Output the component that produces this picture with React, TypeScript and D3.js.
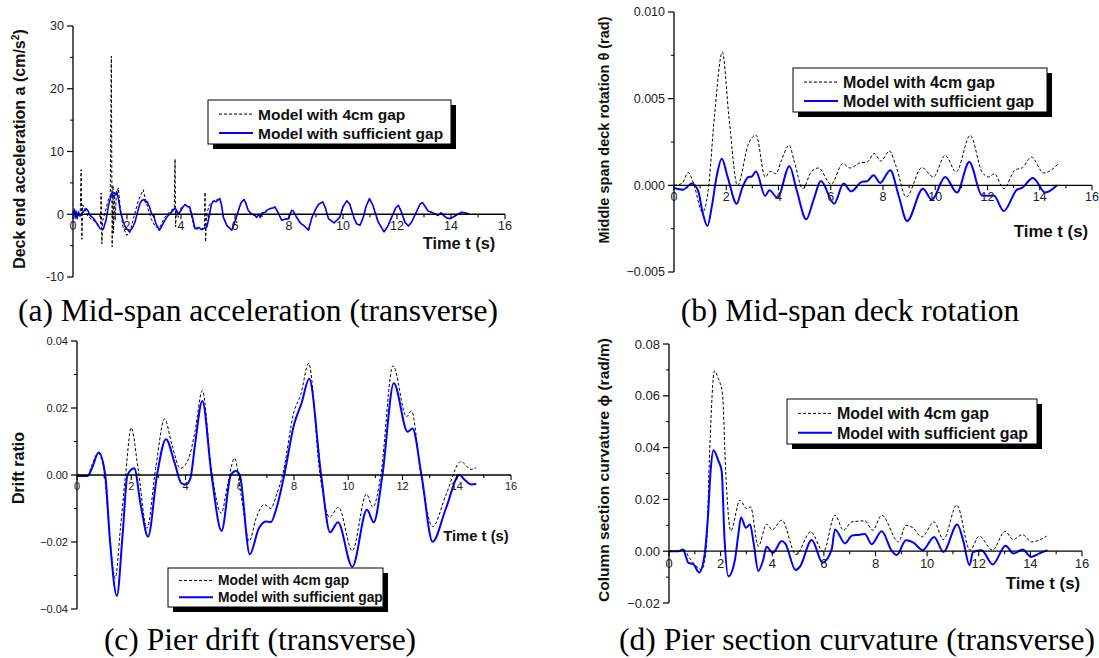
import { useEffect, useRef } from 'react';
import * as d3 from 'd3';

const WIDTH = 1099;
const HEIGHT = 658;

const LEGEND_GAP = 'Model with 4cm gap';
const LEGEND_SUFF = 'Model with sufficient gap';
const X_TICKS = [0, 2, 4, 6, 8, 10, 12, 14, 16];

// (a) deck end acceleration (cm/s2)
const accelSuff: [number, number][] = [
  [0, 0.2], [0.05, 0.8], [0.08, -0.6], [0.11, 0.5], [0.15, -0.7], [0.2, 0.4], [0.26, -0.3], [0.32, 0.1],
  [0.4, 0.5], [0.48, 0.9], [0.55, 0.6], [0.63, -0.2], [0.72, -0.5], [0.82, -1.0], [0.9, -1.6], [1.0, -2.3],
  [1.12, -2.4], [1.22, -1.0], [1.32, 1.5], [1.43, 3.3], [1.52, 2.8], [1.62, 3.6], [1.68, 2.5], [1.75, 0.6],
  [1.85, -1.0], [1.93, -2.0], [2.09, -2.8], [2.2, -2.2], [2.3, -1.2], [2.4, 0.5], [2.48, 1.7], [2.55, 2.2],
  [2.63, 2.35], [2.7, 1.9], [2.75, 2.0], [2.83, 1.2], [2.91, 0.1], [3.0, -0.4], [3.07, -1.5], [3.2, -2.55],
  [3.3, -1.8], [3.41, -0.95], [3.5, -0.3], [3.6, 0.1], [3.7, 0.6], [3.78, 1.0], [3.85, 0.5], [3.9, 0.1],
  [4.0, 0.6], [4.08, 1.2], [4.15, 1.54], [4.25, 1.2], [4.32, 1.17], [4.4, 0], [4.52, -2.3], [4.65, -2.1],
  [4.77, -2.45], [4.96, -2.0], [5.06, 0], [5.12, 1.5], [5.2, 2.1], [5.3, 2.0], [5.44, 2.5], [5.5, 1.5],
  [5.57, -0.5], [5.7, -1.8], [5.8, -2.2], [5.88, -2.55], [5.95, -1.8], [6.05, -0.5], [6.12, 0.5], [6.22, 1.8],
  [6.33, 2.35], [6.4, 1.8], [6.49, 0.6], [6.6, 0.1], [6.74, -0.2], [6.8, -0.5], [6.88, 0], [6.93, -0.5],
  [7.0, 0.2], [7.11, 0.3], [7.2, 0.7], [7.3, 0.9], [7.4, 1.0], [7.48, 1.17], [7.6, 0.2], [7.73, -0.96],
  [7.85, -0.8], [7.98, -0.7], [8.1, 0.64], [8.16, 0.5], [8.3, -0.6], [8.42, -1.4], [8.55, -1.8], [8.72, -2.55],
  [8.85, -0.5], [9.01, 1.0], [9.1, 1.6], [9.25, 1.97], [9.35, 1.0], [9.46, -0.7], [9.67, -1.38], [9.88, -0.5],
  [10.0, 1.2], [10.14, 2.13], [10.25, 1.6], [10.4, -0.5], [10.5, -1.5], [10.63, -1.75], [10.75, -0.5], [10.85, 1.2],
  [10.98, 2.5], [11.1, 1.5], [11.3, -1.2], [11.52, -2.8], [11.65, -2.0], [11.8, -0.5], [11.95, 1.0], [12.05, 1.44],
  [12.15, 0.5], [12.3, -1.3], [12.42, -1.86], [12.55, -1.2], [12.7, 0.2], [12.85, 1.6], [12.94, 1.86], [13.05, 1.2],
  [13.15, 0.5], [13.28, 0.3], [13.4, 0.1], [13.52, -0.2], [13.63, 0.22], [13.75, -0.3], [13.85, -0.6], [13.96, -0.7],
  [14.1, -0.4], [14.25, 0.0], [14.4, 0.32], [14.55, 0.2], [14.68, 0.0],
];
const accelGapEarly: [number, number][] = [
  [0, 0], [0.1, 0.5], [0.2, -0.3], [0.27, 0.5], [0.3, 7.1], [0.33, -4.0], [0.36, 1.5], [0.45, 0.8],
  [0.55, -0.3], [0.7, -0.9], [0.85, -1.2], [0.95, -1.8], [1.02, -1.5], [1.04, 3.4], [1.07, -4.7], [1.1, -1.0],
  [1.2, 0.5], [1.32, 2.5], [1.38, 3.0], [1.42, 25.2], [1.45, -5.2], [1.48, 4.6], [1.5, -3], [1.53, 3.5],
  [1.56, -1], [1.6, 3.0], [1.68, 4.2], [1.75, 1], [1.85, -2.0], [1.99, -3.35], [2.1, -3.0], [2.25, -0.5],
  [2.42, 2.2], [2.6, 3.9], [2.68, 2.5], [2.8, 0.5], [2.9, -0.8], [3.05, -2.0], [3.2, -2.2], [3.4, -0.5],
  [3.6, 0.5], [3.75, 1.0], [3.78, 8.8], [3.8, -2.0], [3.83, 0.8], [3.9, -0.5], [4.0, 1.0], [4.15, 1.5],
  [4.3, 1.2], [4.5, -2.3], [4.75, -2.4], [4.87, -2.0], [4.89, 3.5], [4.91, -4.4], [4.95, 0], [5.05, 1.5],
  [5.2, 2.1],
];
// after ~5.3 s the 4cm-gap trace lies under the sufficient-gap trace
const accelGap: [number, number][] = [...accelGapEarly, ...accelSuff.filter((d) => d[0] > 5.3)];

// (b) middle span deck rotation (rad)
const rotGap: [number, number][] = [
  [0, 0], [0.3, 0.0001], [0.55, 0.00073], [0.75, 0.0001], [1.09, -0.00154], [1.3, -0.0004], [1.55, 0.004],
  [1.85, 0.00769], [2.1, 0.004], [2.43, 0], [2.85, 0.0024], [3.14, 0.0029], [3.49, 0.00048], [3.68, 0.0008],
  [3.9, 0.00067], [4.1, 0.0014], [4.41, 0.00231], [4.6, 0.0014], [4.93, -0.00019], [5.25, 0.00077], [5.53, 0.001],
  [6.01, 0.00006], [6.46, 0.00125], [6.74, 0.001], [7.13, 0.0013], [7.39, 0.00134], [7.66, 0.00183], [7.92, 0.0014],
  [8.25, 0.00198], [8.5, 0.0011], [8.89, -0.00067], [9.49, 0.00102], [9.93, 0.00048], [10.38, 0.00173],
  [10.8, 0.00077], [11.34, 0.00288], [11.79, 0.00077], [12.05, 0.00048], [12.26, 0.00067], [12.62, -0.00019],
  [13.06, 0.0009], [13.32, 0.001], [13.68, 0.00163], [14.15, 0.00071], [14.35, 0.0008], [14.69, 0.00121],
];
const rotSuff: [number, number][] = [
  [0, -0.00015], [0.36, -0.00025], [0.5, -0.0001], [0.68, 0.0001], [0.92, -0.0003], [1.1, -0.0016],
  [1.28, -0.00235], [1.45, -0.0012], [1.63, 0.0005], [1.83, 0.00154], [2.05, 0.0005], [2.4, -0.00106],
  [2.6, -0.0002], [2.85, 0.00048], [2.97, 0.0005], [3.14, 0.0008], [3.49, -0.00061], [3.65, -0.00029],
  [3.96, -0.00071], [4.42, 0.0011], [4.7, -0.0003], [5.06, -0.00196], [5.35, -0.0008], [5.62, 0.00025],
  [6.13, -0.00106], [6.49, 0.0001], [6.78, -0.00035], [7.19, 0.0002], [7.38, 0.00023], [7.64, 0.00058],
  [7.89, 0.00014], [8.28, 0.00087], [8.6, -0.0006], [8.92, -0.00206], [9.53, -0.00019], [9.87, -0.00083],
  [10.38, 0.00048], [10.83, -0.00042], [11.3, 0.00135], [11.79, -0.00058], [12.05, -0.0006], [12.24, -0.00058],
  [12.62, -0.00148], [13.13, -0.00025], [13.32, -0.00015], [13.74, 0.00042], [14.21, -0.00042], [14.66, 0],
];

// (c) pier drift ratio
const driftGap: [number, number][] = [
  [0, 0], [0.4, 0], [0.55, 0.003], [0.78, 0.0065], [1.0, 0.001], [1.2, -0.018], [1.41, -0.0308], [1.6, -0.016],
  [1.79, 0], [2.0, 0.0141], [2.25, 0.002], [2.58, -0.0159], [2.9, 0.002], [3.23, 0.0167], [3.5, 0.009],
  [3.81, 0.002], [4.12, 0.005], [4.35, 0.013], [4.62, 0.0252], [4.95, 0.002], [5.32, -0.0114], [5.55, -0.003],
  [5.81, 0.005], [6.05, -0.006], [6.35, -0.0197], [6.6, -0.013], [6.9, -0.0088], [7.15, -0.01], [7.35, -0.006],
  [7.58, 0], [8.0, 0.0189], [8.25, 0.024], [8.54, 0.0333], [8.96, 0], [9.31, -0.0126], [9.64, -0.0096],
  [10.15, -0.0226], [10.67, -0.0057], [10.91, -0.0096], [11.2, 0], [11.65, 0.0326], [12.15, 0.0174],
  [12.33, 0.0191], [12.68, 0], [13.11, -0.0154], [13.6, -0.006], [14.15, 0.004], [14.53, 0.0017], [14.72, 0.0022],
];
const driftSuff: [number, number][] = [
  [0, -0.0003], [0.4, -0.0003], [0.55, 0.002], [0.8, 0.0067], [1.04, 0], [1.22, -0.02], [1.47, -0.0361],
  [1.68, -0.018], [1.86, 0], [2.11, 0.002], [2.35, -0.009], [2.62, -0.0184], [2.95, 0], [3.28, 0.0107],
  [3.6, 0.0036], [3.85, -0.0025], [4.02, -0.0028], [4.18, -0.001], [4.35, 0.009], [4.62, 0.0221], [4.96, 0],
  [5.33, -0.0167], [5.67, 0], [5.85, 0.0012], [6.0, 0], [6.37, -0.0237], [6.7, -0.016], [6.96, -0.0139],
  [7.15, -0.014], [7.35, -0.01], [7.64, 0], [8.0, 0.015], [8.28, 0.0215], [8.56, 0.0287], [9.0, 0],
  [9.33, -0.0171], [9.62, -0.0141], [10.15, -0.0274], [10.69, -0.0104], [10.94, -0.0141], [11.26, 0],
  [11.68, 0.0274], [12.19, 0.0129], [12.37, 0.0139], [12.7, 0], [13.11, -0.0199], [13.6, -0.01],
  [14.1, 0], [14.3, -0.0015], [14.53, -0.0028], [14.72, -0.0027],
];

// (d) column section curvature (rad/m)
const curvGap: [number, number][] = [
  [0, 0], [0.36, 0], [0.55, 0.0007], [0.82, -0.003], [1.27, -0.0071], [1.45, 0.002], [1.58, 0.04], [1.76, 0.0696],
  [1.91, 0.0667], [2.07, 0.0609], [2.2, 0.03], [2.39, 0.0079], [2.75, 0.0197], [3.0, 0.0165], [3.16, 0.0171],
  [3.46, 0.0019], [3.78, 0.0104], [4.0, 0.0083], [4.37, 0.012], [4.92, -0.0013], [5.49, 0.0075], [5.98, -0.0002],
  [6.43, 0.0139], [6.76, 0.0081], [7.08, 0.0113], [7.59, 0.0117], [7.89, 0.0081], [8.24, 0.0139], [8.89, 0.0036],
  [9.18, 0.01], [9.45, 0.009], [9.79, 0.0055], [10.27, 0.0113], [10.63, 0.0045], [11.15, 0.0178], [11.66, 0.0004],
  [12.02, 0.0058], [12.53, 0.0004], [13.02, 0.0077], [13.33, 0.0045], [13.69, 0.0064], [14.05, 0.0036],
  [14.63, 0.0058],
];
const curvSuff: [number, number][] = [
  [0, 0], [0.36, 0], [0.55, 0.0007], [0.65, -0.002], [0.75, -0.0045], [0.94, -0.005], [1.17, -0.0082],
  [1.39, -0.0006], [1.5, 0.012], [1.62, 0.032], [1.72, 0.039], [1.91, 0.035], [2.04, 0.031], [2.15, 0.005],
  [2.3, -0.0097], [2.56, -0.003], [2.68, 0.006], [2.79, 0.013], [2.98, 0.0091], [3.14, 0.0103], [3.28, 0.003],
  [3.46, -0.0076], [3.65, -0.0033], [3.78, 0.0017], [4.02, -0.0006], [4.37, 0.0039], [4.5, 0.003],
  [4.91, -0.0073], [5.07, -0.006], [5.53, 0.0043], [5.95, -0.0044], [6.3, 0.0006], [6.43, 0.0084], [6.82, 0.003],
  [7.08, 0.006], [7.34, 0.0063], [7.59, 0.0066], [7.85, 0.0027], [8.24, 0.0077], [8.63, 0.0001], [8.82, -0.0015],
  [9.18, 0.0042], [9.47, 0.0033], [9.83, 0.0004], [10.27, 0.0055], [10.63, -0.0003], [11.17, 0.0103],
  [11.4, 0.004], [11.64, -0.0054], [11.78, -0.0003], [12.11, 0.0004], [12.54, -0.0051], [13.04, 0.0021],
  [13.35, -0.0009], [13.7, 0.0007], [14.03, -0.0022], [14.38, -0.0007], [14.66, 0.0004],
];

type Panel = {
  x0: number; x1: number; yTop: number; yBot: number;
  yDomain: [number, number]; yTicks: number[]; yMinor: number[]; yFmt: (v: number) => string;
  gap: [number, number][]; suff: [number, number][]; curve: d3.CurveFactory;
  tickSize: number; blueWidth: number;
  yLabel: string; yLabelSup?: string; yLabelX: number; yLabelY: number; yLabelSize: number;
  time: [number, number, number];
  legend: { x: number; y: number; w: number; h: number; size: number };
  caption: [string, number, number];
};

const PANELS: Panel[] = [
  {
    x0: 73, x1: 505, yTop: 26, yBot: 277, yDomain: [-10, 30], yTicks: [-10, 0, 10, 20, 30], yMinor: [-5, 5, 15, 25],
    yFmt: (v) => String(v), gap: accelGap, suff: accelSuff, curve: d3.curveLinear, tickSize: 12.5, blueWidth: 1.6,
    yLabel: 'Deck end acceleration a (cm/s', yLabelSup: '2', yLabelX: 25, yLabelY: 149, yLabelSize: 16,
    time: [459, 249, 16.4], legend: { x: 208, y: 100, w: 243, h: 44, size: 15.5 },
    caption: ['(a) Mid-span acceleration (transverse)', 258, 321],
  },
  {
    x0: 674, x1: 1092, yTop: 12, yBot: 272, yDomain: [-0.005, 0.01], yTicks: [-0.005, 0, 0.005, 0.01],
    yMinor: [-0.0025, 0.0025, 0.0075], yFmt: (v) => d3.format('.3f')(v), gap: rotGap, suff: rotSuff,
    curve: d3.curveMonotoneX, tickSize: 12.5, blueWidth: 2,
    yLabel: 'Middle span deck rotation θ (rad)', yLabelX: 609, yLabelY: 130, yLabelSize: 14.5,
    time: [1051, 237, 16.8], legend: { x: 793, y: 68, w: 254, h: 44, size: 16 },
    caption: ['(b) Mid-span deck rotation', 850, 321],
  },
  {
    x0: 77, x1: 511, yTop: 341, yBot: 609, yDomain: [-0.04, 0.04], yTicks: [-0.04, -0.02, 0, 0.02, 0.04],
    yMinor: [-0.03, -0.01, 0.01, 0.03], yFmt: (v) => d3.format('.2f')(v), gap: driftGap, suff: driftSuff,
    curve: d3.curveMonotoneX, tickSize: 11, blueWidth: 2,
    yLabel: 'Drift ratio', yLabelX: 24, yLabelY: 468, yLabelSize: 16,
    time: [476, 541, 14.8], legend: { x: 168, y: 568, w: 215, h: 39, size: 13.8 },
    caption: ['(c) Pier drift (transverse)', 260, 650],
  },
  {
    x0: 669, x1: 1082, yTop: 344, yBot: 603, yDomain: [-0.02, 0.08], yTicks: [-0.02, 0, 0.02, 0.04, 0.06, 0.08],
    yMinor: [-0.01, 0.01, 0.03, 0.05, 0.07], yFmt: (v) => d3.format('.2f')(v), gap: curvGap, suff: curvSuff,
    curve: d3.curveMonotoneX, tickSize: 13, blueWidth: 2,
    yLabel: 'Column section curvature ϕ (rad/m)', yLabelX: 609, yLabelY: 470, yLabelSize: 15.5,
    time: [1043, 589, 16.8], legend: { x: 787, y: 399, w: 250, h: 45, size: 16 },
    caption: ['(d) Pier section curvature (transverse)', 857, 650],
  },
];

export default function App() {
  const svgRef = useRef<SVGSVGElement | null>(null);

  useEffect(() => {
    const svg = d3.select(svgRef.current);
    svg.selectAll('*').remove();
    const sans = 'Liberation Sans, Arial, sans-serif';

    PANELS.forEach((p) => {
      const g = svg.append('g');
      const x = d3.scaleLinear().domain([0, 16]).range([p.x0, p.x1]);
      const y = d3.scaleLinear().domain(p.yDomain).range([p.yBot, p.yTop]);
      const y0 = y(0);

      // series
      const line = d3.line<[number, number]>().x((d) => x(d[0])).y((d) => y(d[1])).curve(p.curve);
      g.append('path').datum(p.gap).attr('d', line).attr('fill', 'none')
        .attr('stroke', '#000').attr('stroke-width', 1).attr('stroke-dasharray', '3,2');
      g.append('path').datum(p.suff).attr('d', line).attr('fill', 'none')
        .attr('stroke', '#0000ff').attr('stroke-width', p.blueWidth).attr('stroke-linejoin', 'round');

      // y axis
      g.append('line').attr('x1', p.x0).attr('x2', p.x0).attr('y1', p.yTop).attr('y2', p.yBot)
        .attr('stroke', '#000').attr('stroke-width', 1.3);
      p.yTicks.forEach((v) => {
        g.append('line').attr('x1', p.x0 - 6).attr('x2', p.x0).attr('y1', y(v)).attr('y2', y(v))
          .attr('stroke', '#000').attr('stroke-width', 1.2);
        g.append('text').attr('x', p.x0 - 9).attr('y', y(v)).attr('dy', '0.35em').attr('text-anchor', 'end')
          .attr('font-family', sans).attr('font-size', p.tickSize).attr('fill', '#222').text(p.yFmt(v));
      });
      p.yMinor.forEach((v) => {
        g.append('line').attr('x1', p.x0 - 3).attr('x2', p.x0).attr('y1', y(v)).attr('y2', y(v))
          .attr('stroke', '#000').attr('stroke-width', 1);
      });

      // x axis along zero
      g.append('line').attr('x1', p.x0).attr('x2', p.x1).attr('y1', y0).attr('y2', y0)
        .attr('stroke', '#000').attr('stroke-width', 1.3);
      d3.range(0, 17).forEach((t) => {
        const major = t % 2 === 0;
        g.append('line').attr('x1', x(t)).attr('x2', x(t)).attr('y1', y0).attr('y2', y0 + (major ? 5 : 3))
          .attr('stroke', '#000').attr('stroke-width', 1.1);
      });
      X_TICKS.forEach((t) => {
        g.append('text').attr('x', x(t)).attr('y', y0 + 6).attr('dy', '0.8em').attr('text-anchor', 'middle')
          .attr('font-family', sans).attr('font-size', p.tickSize).attr('fill', '#222').text(t);
      });

      // axis titles
      const yl = g.append('text')
        .attr('transform', `translate(${p.yLabelX},${p.yLabelY}) rotate(-90)`)
        .attr('text-anchor', 'middle').attr('font-family', sans).attr('font-weight', 'bold')
        .attr('font-size', p.yLabelSize).attr('fill', '#111');
      yl.append('tspan').text(p.yLabel);
      if (p.yLabelSup) {
        yl.append('tspan').attr('dy', -p.yLabelSize * 0.4).attr('font-size', p.yLabelSize * 0.65).text(p.yLabelSup);
        yl.append('tspan').attr('dy', p.yLabelSize * 0.4).text(')');
      }
      g.append('text').attr('x', p.time[0]).attr('y', p.time[1]).attr('text-anchor', 'middle')
        .attr('font-family', sans).attr('font-weight', 'bold').attr('font-size', p.time[2]).attr('fill', '#111')
        .text('Time t (s)');

      // legend
      const L = p.legend;
      g.append('rect').attr('x', L.x + 5).attr('y', L.y + 5).attr('width', L.w).attr('height', L.h).attr('fill', '#000');
      g.append('rect').attr('x', L.x).attr('y', L.y).attr('width', L.w).attr('height', L.h)
        .attr('fill', '#fff').attr('stroke', '#000').attr('stroke-width', 1);
      const rows: [string, boolean][] = [[LEGEND_GAP, true], [LEGEND_SUFF, false]];
      rows.forEach(([label, dashed], i) => {
        const ry = L.y + L.h * (i === 0 ? 0.32 : 0.75);
        g.append('line').attr('x1', L.x + 11).attr('x2', L.x + 45).attr('y1', ry).attr('y2', ry)
          .attr('stroke', dashed ? '#000' : '#0000ff').attr('stroke-width', dashed ? 1 : 2)
          .attr('stroke-dasharray', dashed ? '3,2' : null);
        g.append('text').attr('x', L.x + 50).attr('y', ry).attr('dy', '0.36em')
          .attr('font-family', sans).attr('font-weight', 'bold').attr('font-size', L.size).attr('fill', '#111')
          .text(label);
      });

      // caption
      g.append('text').attr('x', p.caption[1]).attr('y', p.caption[2]).attr('text-anchor', 'middle')
        .attr('font-family', 'Liberation Serif, Times New Roman, serif').attr('font-size', 31.5).attr('fill', '#000')
        .text(p.caption[0]);
    });
  }, []);

  return (
    <svg
      ref={svgRef}
      width={WIDTH}
      height={HEIGHT}
      viewBox={`0 0 ${WIDTH} ${HEIGHT}`}
      style={{ position: 'absolute', left: 0, top: 0, background: '#fff' }}
    />
  );
}
